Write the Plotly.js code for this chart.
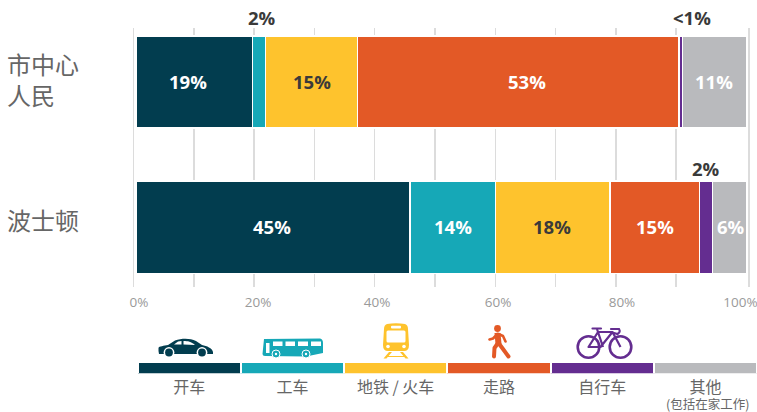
<!DOCTYPE html>
<html><head><meta charset="utf-8">
<script src="https://cdn.plot.ly/plotly-3.0.1.min.js"></script>
<style>html,body{margin:0;padding:0;background:#fff}</style></head>
<body><div id="chart" style="width:757px;height:412px"></div>
<script>
var places = ['市中心<br>人民', '波士顿'];
var modes = ['开车', '工车', '地铁 / 火车', '走路', '自行车', '其他'];
var modeNote = '(包括在家工作)';
var colors = ['#023d4f', '#16a8b7', '#fec32d', '#e35926', '#642d90', '#b9babd'];
var labelColors = ['#ffffff', '#ffffff', '#3a3a3a', '#ffffff', '#ffffff', '#ffffff'];
var downtown = [19.1, 2.1, 15.1, 52.6, 0.6, 10.5];
var boston = [44.9, 14.0, 18.7, 14.7, 2.1, 5.6];
var downtownLabels = ['19%', '', '15%', '53%', '', '11%'];
var bostonLabels = ['45%', '14%', '18%', '15%', '', '6%'];
var downtownNudge = [-1, 0, 0, 1.5, 0, 0];
var bostonNudge = [-0.1, 0, -0.1, 0, 0, 0.25];
var tickLabels = ['0%', '20%', '40%', '60%', '80%', '100%'];
var tickSpots = [0.5, 20, 39.5, 59.3, 79.6, 99];
var gridSpots = [0, 10, 20, 30, 40, 50, 60, 70, 80, 90, 102.07];

var W = 757, H = 412, L = 130;
function px(x) { return (x - L) / (W - L); }
function py(y) { return 1 - y / H; }

var traces = [];
modes.forEach(function (m, i) {
  traces.push({
    type: 'bar', orientation: 'h', name: m, xaxis: 'x', yaxis: 'y',
    y: places, x: [downtown[i], boston[i]], width: 0.635,
    marker: { color: colors[i], line: { color: '#ffffff', width: 1.6 } },
    hoverinfo: 'skip', showlegend: false
  });
});
traces.push({
  type: 'bar', xaxis: 'x3', yaxis: 'y3', x: modes, y: modes.map(function () { return 1; }),
  width: 1, marker: { color: colors, line: { color: '#ffffff', width: 2 } },
  hoverinfo: 'skip', showlegend: false
});
// invisible carrier so the gridline axis stays active
traces.push({ type: 'scatter', mode: 'none', xaxis: 'x2', yaxis: 'y', x: [0], y: [places[0]], hoverinfo: 'skip', showlegend: false });

function svg(w, h, body) {
  return 'data:image/svg+xml;utf8,' + encodeURIComponent(
    '<svg xmlns="http://www.w3.org/2000/svg" width="' + w + '" height="' + h + '" viewBox="0 0 ' + w + ' ' + h + '">' + body + '</svg>');
}
var car = svg(55, 20, '<path fill="#023d4f" d="M0.5 10 C1 8 6 8 10 7 L17 2.5 C24 0 32 0 38 3 L44 7 C49 8 54 10 55 14 L55 16 L1 16 L0.5 13 Z"/>' +
  '<path fill="#fff" d="M16 6.5 L20 3.6 L23.5 3 L23.5 6.5 Z M25.5 3 C30 3 33 3.6 37 7 L25.5 6.5 Z"/>' +
  '<circle cx="11" cy="14.5" r="5.4" fill="#fff"/><circle cx="11" cy="14.5" r="3.9" fill="#023d4f"/>' +
  '<circle cx="44" cy="14.5" r="5.4" fill="#fff"/><circle cx="44" cy="14.5" r="3.9" fill="#023d4f"/>');
var bus = svg(62, 21, '<path fill="#16a8b7" d="M2 1 L58 0.5 Q61 1 61 5 L61 15 L44 18.5 L3 18 Q0.5 18 0.5 16 Z"/>' +
  '<path fill="#fff" d="M4 5 L7.5 5 L7.5 15 L4 15 Z M11 3.5 L20.5 3.5 L20.5 8 L11 8 Z M23.5 3.5 L33 3.5 L33 8 L23.5 8 Z M36 3.5 L46 3.5 L46 8 L36 8 Z M49 3.5 L59 3.5 L59 8 L49 8 Z"/>' +
  '<circle cx="14" cy="16" r="4" fill="#16a8b7" stroke="#fff" stroke-width="1"/><circle cx="14" cy="16" r="1.2" fill="#fff"/>' +
  '<circle cx="44" cy="16" r="4" fill="#16a8b7" stroke="#fff" stroke-width="1"/><circle cx="44" cy="16" r="1.2" fill="#fff"/>');
var train = svg(28, 36, '<path fill="#fec32d" d="M5 1 Q14 -0.5 23 1 Q26 2 26 6 L27 22 Q27 28 22 28 L6 28 Q1 28 1 22 L2 6 Q2 2 5 1 Z"/>' +
  '<rect x="9" y="2.8" width="10" height="2.6" rx="1" fill="#fff"/><rect x="4.5" y="7.5" width="19" height="12" rx="1.5" fill="#fff"/>' +
  '<circle cx="6" cy="23.5" r="1.8" fill="#fff"/><circle cx="22" cy="23.5" r="1.8" fill="#fff"/>' +
  '<path fill="#fec32d" d="M7 29 L10 29 L4.5 35.5 L1.5 35.5 Z M18 29 L21 29 L26.5 35.5 L23.5 35.5 Z M5 33 L23 33 L23 34 L5 34 Z"/>');
var walker = svg(24, 34, '<circle cx="9.5" cy="3.5" r="3.4" fill="#e35926"/>' +
  '<path fill="none" stroke="#e35926" stroke-width="4" stroke-linecap="round" stroke-linejoin="round" d="M9.5 9.5 L10 18 M10 18 L6.5 23 L6 31.5 M10.5 18 L15 24 L20.5 31.5"/>' +
  '<path fill="none" stroke="#e35926" stroke-width="2.6" stroke-linecap="round" stroke-linejoin="round" d="M9 9.5 L5 13.5 L1.5 14.5 M10.5 9 L15 11 L17.5 16.5"/>' +
  '<path fill="#e35926" d="M6.5 8 L12.5 8 L13.5 19 L7.5 19 Z"/>');
var bike = svg(58, 33, '<g fill="none" stroke="#642d90"><circle cx="12.5" cy="20" r="10.8" stroke-width="2.6"/><circle cx="44.5" cy="20" r="10.8" stroke-width="2.6"/>' +
  '<path stroke-width="2.2" stroke-linejoin="round" d="M12.5 20 L22 5 L36.5 5 L24.5 20 Z M21 2 L27 20 M36.5 5 L44.5 20"/>' +
  '<path stroke-width="2.2" stroke-linecap="round" d="M16.5 1.5 L25 1.5 M35 2 L43 2 Q45 5 41.5 7 L38 6"/></g>');

var icons = [[car, 158, 338, 55, 20], [bus, 262, 338, 62, 21], [train, 382, 323, 28, 36], [walker, 488, 325, 24, 34], [bike, 576, 327, 58, 33]];
var images = icons.map(function (c) {
  return { source: c[0], xref: 'paper', yref: 'paper', x: px(c[1]), y: py(c[2]), sizex: c[3] / (W - L), sizey: c[4] / H,
    xanchor: 'left', yanchor: 'top', sizing: 'stretch', layer: 'above' };
});

var cjk = '"Noto Sans CJK SC","Noto Sans",sans-serif';
var bold = { family: 'Open Sans', size: 18.5, color: '#3a3a3a', weight: 700 };
var ann = [
  { text: places[0], xref: 'paper', yref: 'y', x: px(5), y: places[0], yshift: 2.5, xanchor: 'left', yanchor: 'middle', align: 'left', showarrow: false, font: { family: cjk, size: 24, color: '#666' } },
  { text: places[1], xref: 'paper', yref: 'paper', x: px(5), y: py(219.5), xanchor: 'left', yanchor: 'middle', align: 'left', showarrow: false, font: { family: cjk, size: 24, color: '#666' } },
  { text: '2%', xref: 'x', yref: 'paper', x: 20.7, y: py(18), xanchor: 'center', yanchor: 'middle', showarrow: false, font: bold },
  { text: '&lt;1%', xref: 'x', yref: 'paper', x: 91, y: py(17.5), xanchor: 'center', yanchor: 'middle', showarrow: false, font: bold },
  { text: '2%', xref: 'x', yref: 'paper', x: 93.3, y: py(169), xanchor: 'center', yanchor: 'middle', showarrow: false, font: bold },
  { text: modeNote, xref: 'paper', yref: 'paper', x: px(707), y: py(403), xanchor: 'center', yanchor: 'middle', showarrow: false, font: { family: cjk, size: 12.5, color: '#666' } }
];
function addRow(place, values, labels, nudges) {
  var sum = 0;
  values.forEach(function (v, i) {
    if (labels[i]) {
      ann.push({ text: labels[i], xref: 'x', yref: 'y', x: sum + v / 2 + nudges[i], y: place, yshift: 0.5, xanchor: 'center', yanchor: 'middle', showarrow: false,
        font: { family: 'Open Sans', size: 18.5, color: labelColors[i], weight: 700 } });
    }
    sum += v;
  });
}
addRow(places[0], downtown, downtownLabels, downtownNudge);
addRow(places[1], boston, bostonLabels, bostonNudge);

var layout = {
  width: W, height: H, margin: { l: L, r: 0, t: 0, b: 0 }, paper_bgcolor: '#fff', plot_bgcolor: 'rgba(0,0,0,0)',
  barmode: 'stack', showlegend: false,
  xaxis: { domain: [0, 1], range: [-0.983, 101.72], anchor: 'y', tickmode: 'array', tickvals: tickSpots, ticktext: tickLabels,
    showgrid: false, zeroline: false, showline: false, ticks: '', ticklabelstandoff: 5, ticklabeloverflow: 'allow',
    tickfont: { family: 'Open Sans', size: 13.5, color: '#9a9a9a' } },
  xaxis2: { overlaying: 'x', anchor: 'y', range: [-0.58, 103.4], tickmode: 'array', tickvals: gridSpots, showticklabels: false,
    showgrid: true, gridcolor: '#dcdcdc', gridwidth: 1.5, zeroline: false, showline: false, ticks: '', side: 'bottom' },
  yaxis: { domain: [py(287), py(28)], type: 'category', categoryorder: 'array', categoryarray: places, range: [1.409, -0.371], anchor: 'x',
    showticklabels: false, showgrid: false, zeroline: false, showline: false, ticks: '' },
  xaxis3: { domain: [px(137.5), 1], anchor: 'y3', type: 'category', categoryorder: 'array', categoryarray: modes, range: [-0.5, 5.5],
    showgrid: false, zeroline: false, showline: false, ticks: '', ticklabelstandoff: 2, tickangle: 0,
    tickfont: { family: cjk, size: 16, color: '#666' } },
  yaxis3: { domain: [py(373.5), py(361.5)], anchor: 'x3', range: [0, 1], showticklabels: false, showgrid: false, zeroline: false, showline: false, ticks: '' },
  annotations: ann, images: images
};
Plotly.newPlot('chart', traces, layout, { displayModeBar: false, staticPlot: true });
</script></body></html>
